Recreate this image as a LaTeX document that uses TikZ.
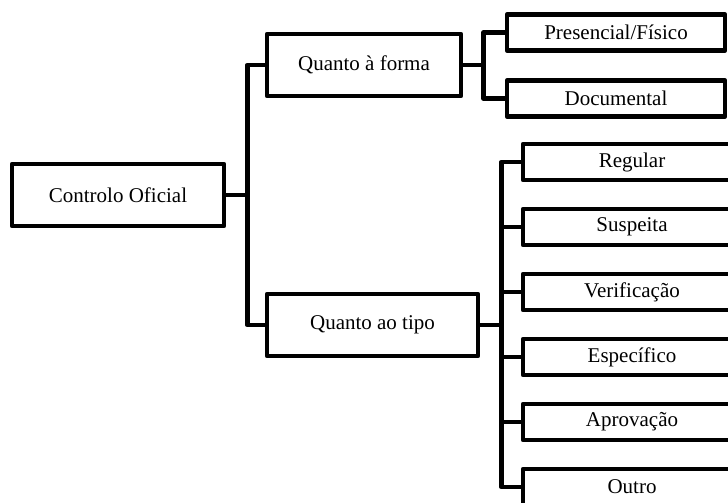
\documentclass[tikz,border=0pt]{standalone}
\usepackage{fontspec}
\setmainfont{Liberation Serif}
\usetikzlibrary{positioning}

\begin{document}
\begin{tikzpicture}[
          x=0.5pt, y=-0.5pt,
          box/.style={rectangle, draw=black, line width=2.3pt, line join=round,
                      inner sep=0pt, font=\fontsize{10.5}{12}\selectfont, align=center},
          bigbox/.style={box, minimum height=31pt},
          leaf/.style={box, minimum width=109pt, minimum height=18pt},
          conn/.style={line width=2.3pt, line join=round},
          node distance=12.2pt
        ]
          \useasboundingbox (0,0) rectangle (728,503);
          \node[bigbox, minimum width=106pt] (ctrl) at (118,195) {Controlo Oficial};
          \node[bigbox, minimum width=97pt] (forma) at (364,65) {Quanto à forma};
          \node[bigbox, minimum width=105.5pt] (tipo) at (372.5,325) {Quanto ao tipo};
          % quanto a forma
          \node[leaf] (pres) at (616,32.5) {Presencial/Físico};
          \node[leaf, below=12.7pt of pres] (doc) {Documental};
          % quanto ao tipo
          \node[leaf] (reg) at (632,162) {Regular};
          \node[leaf, below=of reg] (susp) {Suspeita};
          \node[leaf, below=of susp] (verif) {Verificação};
          \node[leaf, below=of verif] (espec) {Específico};
          \node[leaf, below=of espec] (aprov) {Aprovação};
          \node[leaf, below=of aprov] (outro) {Outro};
          \draw[conn] (ctrl.east) -- ++(10.5pt,0) coordinate (j1) |- (forma.west);
          \draw[conn] (j1) |- (tipo.west);
          \draw[conn] (forma.east) -- ++(10pt,0) coordinate (j2) |- (pres.west);
          \draw[conn] (j2) |- (doc.west);
          \draw[conn] (tipo.east) -- ++(10.5pt,0) coordinate (j3) |- (reg.west);
          \foreach \n in {susp,verif,espec,aprov,outro}
            \draw[conn] (j3) |- (\n.west);
        \end{tikzpicture}
\end{document}
